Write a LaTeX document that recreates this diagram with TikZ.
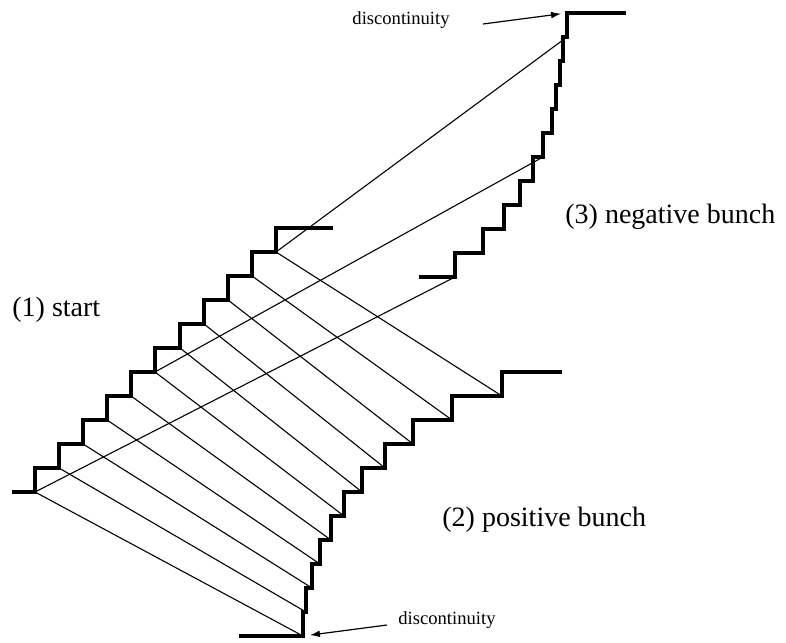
\documentclass[tikz,border=0pt]{standalone}
\usepackage{fontspec}
\setmainfont{Liberation Serif}
\usetikzlibrary{arrows.meta}

\begin{document}
\begin{tikzpicture}[x=0.5pt,y=-0.5pt,line cap=butt,
  stair/.style={line width=1.7pt,line join=miter},
  link/.style={line width=0.55pt},
  lbl/.style={font=\fontsize{14}{16}\selectfont,inner sep=0pt},
  note/.style={font=\fontsize{9.3}{11}\selectfont,inner sep=0pt},
  pointer/.style={line width=0.6pt,-{Latex[length=5pt,width=3.4pt]}}]
\path[use as bounding box] (0,0) rectangle (786,642);
% corners of the three staircases
\foreach \k/\xs/\xp/\xn in {0/35/303/455,1/59/306/483,2/83/312/504,3/107/320/520,
  4/131/331/533,5/155/344/543,6/180/362/552,7/204/385/556,8/228/413/560,
  9/252/452/563,10/276/502/567}{
  \coordinate (st\k) at (\xs,492-24*\k);
  \coordinate (pos\k) at (\xp,636-24*\k);
  \coordinate (neg\k) at (\xn,277-24*\k);
}
\coordinate (stA) at (12,492);   \coordinate (stB) at (333,228);
\coordinate (posA) at (239,636); \coordinate (posB) at (562,372);
\coordinate (negA) at (419,277); \coordinate (negB) at (626,13);
\coordinate (negT) at (567,13);
\foreach \k in {0,...,10} \draw[link] (st\k) -- (pos\k);
\foreach \k in {0,5,10} \draw[link] (st\k) -- (neg\k);
\draw[stair] (stA) -- (st0) \foreach \k in {1,...,10}{ |- (st\k)} |- (stB);
\draw[stair] (posA) -- (pos0) \foreach \k in {1,...,10}{ |- (pos\k)} |- (posB);
\draw[stair] (negA) -- (neg0) \foreach \k in {1,...,10}{ |- (neg\k)} |- (negB);
\node[lbl,anchor=west] (start) at (12,310) {(1) start};
\node[lbl,anchor=west] (posbunch) at (442,520) {(2) positive bunch};
\node[lbl,anchor=west] (negbunch) at (565,217) {(3) negative bunch};
\node[note,anchor=east] (disctop) at (450,20) {discontinuity};
\node[note,anchor=west] (discbot) at (398,620) {discontinuity};
\coordinate (disctopA) at (483,24);
\coordinate (discbotA) at (387,625);
\draw[pointer,shorten >=3pt] (disctopA) -- (negT);
\draw[pointer,shorten >=3.5pt] (discbotA) -- (pos0);
\end{tikzpicture}
\end{document}
